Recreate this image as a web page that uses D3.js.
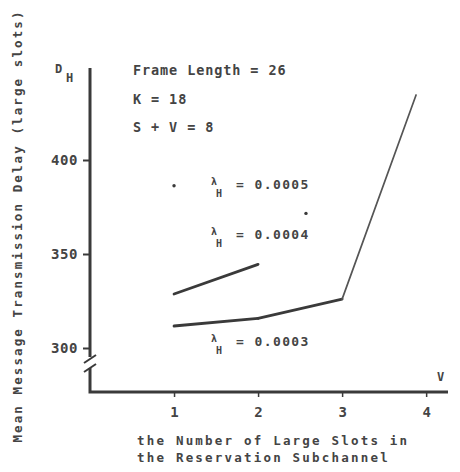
<!DOCTYPE html>
<html>
<head>
<meta charset="utf-8">
<script src="https://cdn.jsdelivr.net/npm/d3@7"></script>
<style>
  body { margin: 0; background: #fff; }
  svg text { font-family: "DejaVu Sans Mono", monospace; font-weight: bold; fill: #444; }
</style>
</head>
<body>
<svg id="chart" width="460" height="472"></svg>
<script>
// data
const vTicks = [1, 2, 3, 4];
const delayTicks = [300, 350, 400];

const v03 = [1, 2, 3, 3.88];
const delay03 = [311.7, 315.8, 326.0, 434.6];

const v04 = [1, 2];
const delay04 = [328.7, 344.5];

const v05 = [1, 2.57];
const delay05 = [386.3, 371.6];

const params = ["Frame Length = 26", "K = 18", "S + V = 8"];
const lambdaLabels = ["0.0005", "0.0004", "0.0003"];

const ink = "#3a3a3a";
const svg = d3.select("#chart");

const x = d3.scaleLinear().domain([0, 4.26]).range([90, 448]);
const y = d3.scaleLinear().domain([300, 400]).range([348, 160]);

const toPts = (vs, ds) => vs.map((v, i) => ({ v: v, d: ds[i] }));

//////// axes
const axisG = svg.append("g");
axisG.append("path")
  .attr("d", "M90,68 V357 M90,368 V392 H448")
  .attr("fill", "none")
  .attr("stroke", ink)
  .attr("stroke-width", 3);
// the break marks on the y axis
axisG.selectAll(".brk").data([0, 9]).enter().append("line")
  .attr("class", "brk")
  .attr("x1", 84).attr("x2", 96)
  .attr("y1", d => 363 + d).attr("y2", d => 355 + d)
  .attr("stroke", ink).attr("stroke-width", 2);

const yAxis = d3.axisLeft(y).tickValues(delayTicks).tickSize(7).tickPadding(5).tickFormat(d3.format("d"));
const yG = svg.append("g").attr("transform", "translate(90,0)").call(yAxis);
yG.select(".domain").remove();
yG.selectAll(".tick line").attr("stroke", ink).attr("stroke-width", 2);
yG.selectAll(".tick text")
  .attr("font-size", 14).attr("letter-spacing", 0.6)
  .style("font-family", "DejaVu Sans Mono").style("font-weight", "bold");

const xAxis = d3.axisBottom(x).tickValues(vTicks).tickSize(5).tickPadding(10).tickFormat(d3.format("d"));
const xG = svg.append("g").attr("transform", "translate(0,392)").call(xAxis);
xG.select(".domain").remove();
xG.selectAll(".tick line").attr("stroke", ink).attr("stroke-width", 1.5);
xG.selectAll(".tick text")
  .attr("font-size", 14)
  .style("font-family", "DejaVu Sans Mono").style("font-weight", "bold");

//////// axis titles
svg.append("text")
  .attr("transform", "translate(18,226) rotate(-90)")
  .attr("text-anchor", "middle")
  .attr("dominant-baseline", "middle")
  .attr("font-size", 12.5)
  .attr("letter-spacing", 2.1)
  .text("Mean Message Transmission Delay (large slots)");

svg.selectAll(".xlab").data(["the Number of Large Slots in", "the Reservation Subchannel"])
  .enter().append("text")
  .attr("class", "xlab")
  .attr("x", 137)
  .attr("y", (d, i) => 441 + i * 17)
  .attr("dominant-baseline", "middle")
  .attr("font-size", 12.5)
  .attr("letter-spacing", 2.2)
  .text(d => d);

svg.append("text").attr("x", 55).attr("y", 69).attr("dominant-baseline", "middle")
  .attr("font-size", 12).text("D");
svg.append("text").attr("x", 66).attr("y", 78).attr("dominant-baseline", "middle")
  .attr("font-size", 12).text("H");
svg.append("text").attr("x", 437).attr("y", 377).attr("dominant-baseline", "middle")
  .attr("font-size", 12).text("V");

//////// parameters
svg.selectAll(".param").data(params).enter().append("text")
  .attr("class", "param")
  .attr("x", 133)
  .attr("y", (d, i) => 71 + i * 28.5)
  .attr("dominant-baseline", "middle")
  .attr("font-size", 13.5)
  .attr("letter-spacing", 0.9)
  .text(d => d);

//////// curves
const line = d3.line().x(d => x(d.v)).y(d => y(d.d));

const pts03 = toPts(v03, delay03);
const segs03 = d3.pairs(pts03);
svg.selectAll(".seg03").data(segs03).enter().append("path")
  .attr("class", "seg03")
  .attr("d", d => line(d))
  .attr("fill", "none")
  .attr("stroke", (d, i) => i < 2 ? ink : "#555")
  .attr("stroke-width", (d, i) => i < 2 ? 2.8 : 1.7)
  .attr("stroke-linecap", "round");

svg.append("path")
  .attr("d", line(toPts(v04, delay04)))
  .attr("fill", "none")
  .attr("stroke", ink)
  .attr("stroke-width", 2.8)
  .attr("stroke-linecap", "round");

svg.selectAll(".dot05").data(toPts(v05, delay05)).enter().append("circle")
  .attr("class", "dot05")
  .attr("cx", d => x(d.v)).attr("cy", d => y(d.d))
  .attr("r", 1.7)
  .attr("fill", ink);

//////// lambda labels
const lambdaY = [185, 235, 342];
const lamG = svg.selectAll(".lam").data(lambdaLabels).enter().append("g")
  .attr("class", "lam")
  .attr("transform", (d, i) => `translate(211,${lambdaY[i]})`);
lamG.append("text").attr("x", 0).attr("y", -3).attr("dominant-baseline", "middle")
  .attr("font-size", 10).text("λ");
lamG.append("text").attr("x", 5).attr("y", 9).attr("dominant-baseline", "middle")
  .attr("font-size", 10).text("H");
lamG.append("text").attr("x", 25).attr("y", 0).attr("dominant-baseline", "middle")
  .attr("font-size", 13).attr("letter-spacing", 1.4)
  .text(d => "= " + d);
</script>
</body>
</html>
